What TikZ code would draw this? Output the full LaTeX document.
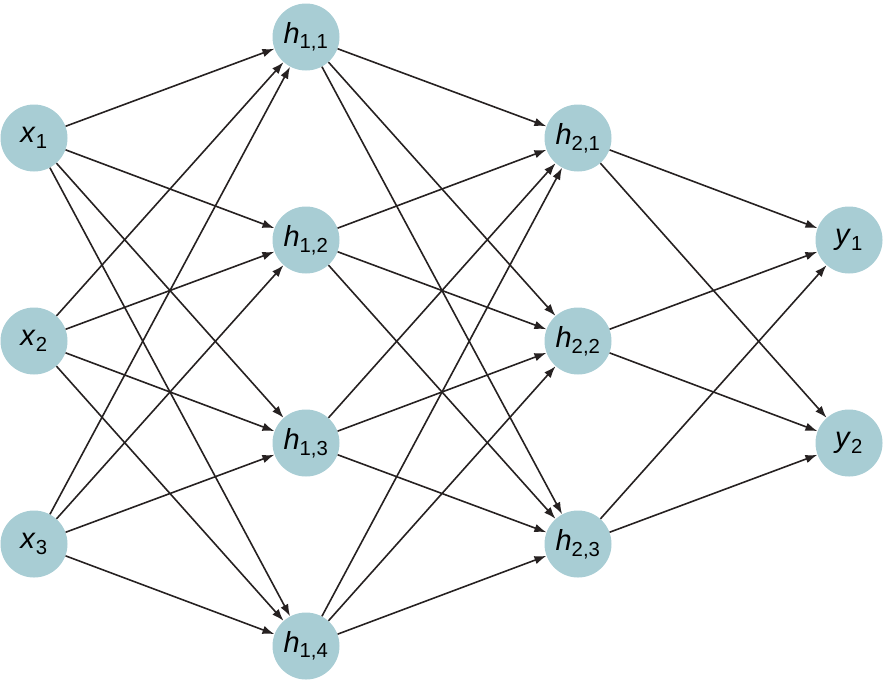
\documentclass[tikz,border=0pt]{standalone}
\usepackage{fontspec}
\setmainfont{Liberation Sans}
\usetikzlibrary{arrows.meta}

\definecolor{nodeblue}{RGB}{168,205,212}
\definecolor{edgedark}{RGB}{38,33,33}

\tikzset{
  neuron/.style={circle,fill=nodeblue,minimum size=67pt,inner sep=0pt,
    font=\fontsize{29}{29}\selectfont},
  link/.style={-{Latex[length=12pt,width=8.5pt]},edgedark,line width=1.6pt}
}
\newcommand{\nlabel}[2]{\textit{#1}\textsubscript{#2}}

\begin{document}
\begin{tikzpicture}[x=1pt,y=-1pt]
        \useasboundingbox (0,0) rectangle (885,681);
        % input layer
        \foreach \i/\y in {1/138,2/341,3/544} { \node [neuron] (x\i) at (34,\y) {\nlabel{x}{\i}}; }
        % first hidden layer
        \foreach \j/\y in {1/37,2/240,3/443,4/646} { \node [neuron] (h1\j) at (306,\y) {\nlabel{h}{1,\j}}; }
        % second hidden layer
        \foreach \k/\y in {1/138,2/341,3/544} { \node [neuron] (h2\k) at (578,\y) {\nlabel{h}{2,\k}}; }
        % output layer
        \foreach \m/\y in {1/240,2/443} { \node [neuron] (y\m) at (849,\y) {\nlabel{y}{\m}}; }
        % connections
        \foreach \i in {1,2,3} {
            \foreach \j in {1,...,4} {
                \draw [link] (x\i) -- (h1\j);
            }
        }
        \foreach \j in {1,...,4} {
            \foreach \k in {1,2,3} {
                \draw [link] (h1\j) -- (h2\k);
            }
        }
        \foreach \k in {1,2,3} {
            \foreach \m in {1,2} {
                \draw [link] (h2\k) -- (y\m);
            }
        }
    \end{tikzpicture}
\end{document}
